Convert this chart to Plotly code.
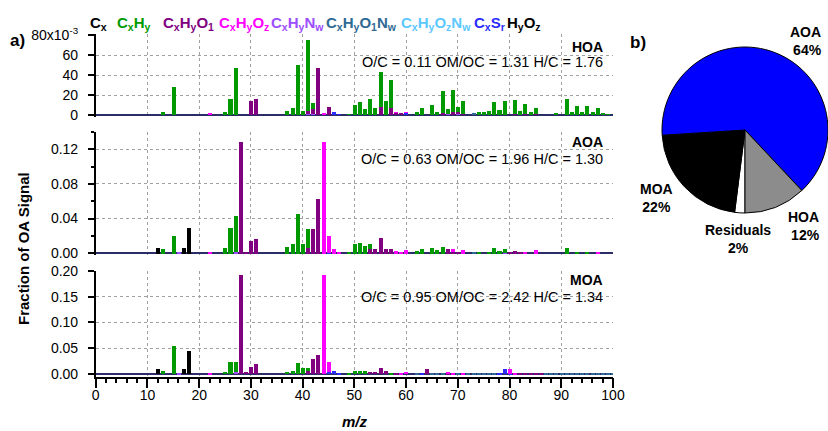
import plotly.graph_objects as go

W, H = 828, 431
MZ = list(range(1, 101))

# ---------------- data: fraction of OA signal, by ion family ----------------
# HOA
hoa_Cx = {}
hoa_HyOz = {}
hoa_CxHy = {13: 0.0033, 15: 0.028, 25: 0.003, 26: 0.016, 27: 0.047, 37: 0.0045, 38: 0.0075,
            39: 0.050, 40: 0.004, 41: 0.071, 42: 0.0065, 49: 0.001, 50: 0.010, 51: 0.0127,
            52: 0.006, 53: 0.0157, 54: 0.007, 55: 0.035, 56: 0.014, 57: 0.028, 62: 0.003,
            63: 0.007, 65: 0.010, 66: 0.0033, 67: 0.022, 68: 0.005, 69: 0.022, 70: 0.005,
            71: 0.0125, 74: 0.003, 75: 0.003, 76: 0.004, 77: 0.013, 78: 0.005, 79: 0.014,
            81: 0.0145, 82: 0.004, 83: 0.0105, 84: 0.003, 85: 0.006, 89: 0.0025, 91: 0.0165,
            92: 0.003, 93: 0.0095, 94: 0.003, 95: 0.009, 96: 0.003, 97: 0.007, 98: 0.002,
            99: 0.001}
hoa_CxHyO1 = {30: 0.014, 31: 0.016, 41: 0.003, 42: 0.005, 43: 0.0467, 45: 0.0077, 55: 0.0083,
              57: 0.007, 58: 0.002, 59: 0.0015, 67: 0.002, 69: 0.003, 70: 0.002, 71: 0.0015,
              81: 0.001, 83: 0.001, 85: 0.001}
hoa_CxHyOz = {22: 0.0015, 44: 0.0012, 58: 0.001, 60: 0.0005}
hoa_CxHyNw = {27: 0.0005, 41: 0.001, 42: 0.001, 68: 0.001, 70: 0.001}
hoa_CxHyO1Nw = {73: 0.002}
hoa_CxHyOzNw = {}
hoa_CxSr = {46: 0.0027, 47: 0.001, 60: 0.002}

# AOA
aoa_Cx = {12: 0.007}
aoa_HyOz = {17: 0.007, 18: 0.029}
aoa_CxHy = {13: 0.0058, 15: 0.0203, 25: 0.0065, 26: 0.029, 27: 0.041, 37: 0.0073, 38: 0.0115,
            39: 0.046, 40: 0.0115, 41: 0.021, 49: 0.002, 50: 0.0115, 51: 0.012, 52: 0.0085,
            53: 0.0065, 62: 0.0027, 63: 0.005, 65: 0.007, 66: 0.004, 67: 0.008, 74: 0.002,
            76: 0.002, 77: 0.007, 78: 0.003, 79: 0.0045, 91: 0.0065, 93: 0.001, 95: 0.001}
aoa_CxHyO1 = {28: 0.129, 29: 0.001, 30: 0.0146, 31: 0.0165, 41: 0.007, 42: 0.0288, 43: 0.0634,
              53: 0.005, 54: 0.0058, 55: 0.018, 56: 0.0058, 57: 0.0058, 68: 0.005, 69: 0.002,
              70: 0.002, 80: 0.001, 81: 0.003, 82: 0.002}
aoa_CxHyOz = {22: 0.001, 44: 0.129, 45: 0.019, 46: 0.005, 47: 0.0015, 58: 0.0025, 59: 0.002,
              60: 0.0038, 69: 0.003, 71: 0.004, 83: 0.002, 85: 0.004, 97: 0.001}
aoa_CxHyNw = {16: 0.001, 27: 0.002, 79: 0.001}
aoa_CxHyO1Nw = {73: 0.002}
aoa_CxHyOzNw = {}
aoa_CxSr = {45: 0.001}

# MOA
moa_Cx = {12: 0.011}
moa_HyOz = {17: 0.011, 18: 0.0446}
moa_CxHy = {13: 0.0065, 15: 0.0555, 25: 0.005, 26: 0.023, 27: 0.020, 37: 0.0045, 38: 0.007,
            39: 0.022, 40: 0.012, 41: 0.0068, 49: 0.002, 50: 0.006, 51: 0.006, 52: 0.006,
            57: 0.003}
moa_CxHyO1 = {28: 0.193, 29: 0.0045, 30: 0.015, 31: 0.0207, 41: 0.0062, 42: 0.0295, 43: 0.0378,
              53: 0.005, 54: 0.005, 55: 0.0116, 56: 0.006, 58: 0.003, 64: 0.0095, 68: 0.002,
              82: 0.002, 83: 0.002, 84: 0.002, 85: 0.002, 86: 0.002}
moa_CxHyOz = {22: 0.003, 44: 0.193, 45: 0.019, 59: 0.001, 60: 0.004, 68: 0.001, 69: 0.003,
              71: 0.003, 80: 0.0085, 81: 0.003}
moa_CxHyNw = {16: 0.001, 27: 0.004}
moa_CxHyO1Nw = {62: 0.001, 65: 0.002, 66: 0.002, 67: 0.002, 70: 0.002, 72: 0.001, 73: 0.001,
                74: 0.001, 75: 0.001, 76: 0.001, 77: 0.001, 87: 0.001, 88: 0.001, 89: 0.001,
                90: 0.001, 91: 0.001, 92: 0.001, 93: 0.001, 94: 0.001, 95: 0.001, 96: 0.001,
                97: 0.001, 98: 0.001, 99: 0.001, 100: 0.001}
moa_CxHyOzNw = {}
moa_CxSr = {45: 0.005, 46: 0.0055, 47: 0.002, 63: 0.002, 78: 0.003, 79: 0.011, 80: 0.001}

# pie (listed clockwise starting at 6 o'clock)
pie_labels = ["Residuals", "MOA", "AOA", "HOA"]
pie_values = [2, 22, 64, 12]
pie_colors = ["#ffffff", "#000000", "#0000ff", "#8c8c8c"]

panel_names = ["HOA", "AOA", "MOA"]
panel_text = ["O/C = 0.11 OM/OC = 1.31 H/C = 1.76",
              "O/C = 0.63 OM/OC = 1.96 H/C = 1.30",
              "O/C = 0.95 OM/OC = 2.42 H/C = 1.34"]

# bottom -> top stacking order
FAMILIES = ["CxHyNw", "CxHyO1Nw", "CxHyOzNw", "CxSr", "CxHyO1", "Cx", "HyOz", "CxHyOz", "CxHy"]
COLORS = {"Cx": "#000000", "CxHy": "#009a00", "CxHyO1": "#800080", "CxHyOz": "#ff00ff",
          "CxHyNw": "#9b4dff", "CxHyO1Nw": "#2f6a94", "CxHyOzNw": "#5cc8ff",
          "CxSr": "#2b2bff", "HyOz": "#000000"}

PANELS = {
    "HOA": dict(Cx=hoa_Cx, HyOz=hoa_HyOz, CxHy=hoa_CxHy, CxHyO1=hoa_CxHyO1, CxHyOz=hoa_CxHyOz,
                CxHyNw=hoa_CxHyNw, CxHyO1Nw=hoa_CxHyO1Nw, CxHyOzNw=hoa_CxHyOzNw, CxSr=hoa_CxSr),
    "AOA": dict(Cx=aoa_Cx, HyOz=aoa_HyOz, CxHy=aoa_CxHy, CxHyO1=aoa_CxHyO1, CxHyOz=aoa_CxHyOz,
                CxHyNw=aoa_CxHyNw, CxHyO1Nw=aoa_CxHyO1Nw, CxHyOzNw=aoa_CxHyOzNw, CxSr=aoa_CxSr),
    "MOA": dict(Cx=moa_Cx, HyOz=moa_HyOz, CxHy=moa_CxHy, CxHyO1=moa_CxHyO1, CxHyOz=moa_CxHyOz,
                CxHyNw=moa_CxHyNw, CxHyO1Nw=moa_CxHyO1Nw, CxHyOzNw=moa_CxHyOzNw, CxSr=moa_CxSr),
}

FONT = "Liberation Sans, Arial, sans-serif"


def px(x):
    return x / W


def py(y):
    return 1 - y / H


fig = go.Figure()
axis_ids = [("x", "y"), ("x2", "y2"), ("x3", "y3")]
for (xa, ya), name in zip(axis_ids, panel_names):
    fams = PANELS[name]
    for fam in FAMILIES:
        d = fams[fam]
        fig.add_trace(go.Bar(x=MZ, y=[d.get(m, 0) for m in MZ], xaxis=xa, yaxis=ya,
                             marker=dict(color=COLORS[fam], line=dict(width=0)),
                             width=0.78, showlegend=False, name=fam))

fig.add_trace(go.Pie(labels=pie_labels, values=pie_values, sort=False,
                     direction="clockwise", rotation=180,
                     marker=dict(colors=pie_colors, line=dict(color="black", width=1)),
                     textinfo="none", hoverinfo="label+percent", showlegend=False,
                     domain=dict(x=[px(662), 1.0], y=[py(213), py(47)])))

xdom = [px(95.7), px(613)]
grid = dict(showgrid=True, gridcolor="#a0a0a0", griddash="dot", gridwidth=1)
xcommon = dict(range=[0, 100], dtick=10, tick0=0, domain=xdom, zeroline=False,
               automargin=False, **grid)
tickfont = dict(family=FONT, size=14, color="black")

ycommon = dict(ticks="outside", ticklen=6, tickwidth=1.5, tickcolor="black", showline=True,
               linecolor="black", linewidth=1.5, zeroline=True, zerolinecolor="#2c2c66",
               zerolinewidth=1.5, tickfont=tickfont, automargin=False, ticklabelstandoff=7,
               **grid)

layout = dict(
    width=W, height=H, margin=dict(l=0, r=0, t=0, b=0, autoexpand=False), barmode="stack",
    bargap=0, plot_bgcolor="white", paper_bgcolor="white",
    xaxis=dict(anchor="y", showticklabels=False, ticks="", **xcommon),
    xaxis2=dict(anchor="y2", showticklabels=False, ticks="", matches="x", **xcommon),
    xaxis3=dict(anchor="y3", matches="x", ticks="outside", ticklen=10, tickwidth=1.5,
                tickcolor="black", showline=True, linecolor="black", linewidth=1.5,
                tickfont=tickfont, ticklabelstandoff=-5,
                minor=dict(dtick=2, tick0=0, ticks="outside", ticklen=5, tickwidth=1.5,
                           tickcolor="black"),
                **xcommon),
    yaxis=dict(anchor="x", domain=[py(117), py(34)], range=[-0.002, 0.081],
               tickmode="array", tickvals=[0, 0.02, 0.04, 0.06, 0.08],
               ticktext=["0", "20", "40", "60", "80x10<sup>-3</sup>"], **ycommon),
    yaxis2=dict(anchor="x2", domain=[py(255), py(131.7)], range=[-0.002, 0.1402],
                tickmode="array", tickvals=[0, 0.04, 0.08, 0.12],
                ticktext=["0.00", "0.04", "0.08", "0.12"],
                minor=dict(tickmode="array", tickvals=[0.02, 0.06, 0.10, 0.14], ticks="outside",
                           ticklen=3, tickwidth=1.5, tickcolor="black"),
                **ycommon),
    yaxis3=dict(anchor="x3", domain=[py(376.7), py(270.7)], range=[-0.0052, 0.2002],
                tickmode="array", tickvals=[0, 0.05, 0.10, 0.15, 0.20],
                ticktext=["0.00", "0.05", "0.10", "0.15", "0.20"], **ycommon),
)
fig.update_layout(**layout)

ann = []


def add_text(x, y, text, size, bold=True, color="black", xanchor="center", yanchor="middle",
             align="center", italic=False, angle=0):
    t = text
    if bold:
        t = "<b>" + t + "</b>"
    if italic:
        t = "<i>" + t + "</i>"
    ann.append(dict(x=px(x), y=py(y), xref="paper", yref="paper", text=t, showarrow=False,
                    xanchor=xanchor, yanchor=yanchor, align=align, textangle=angle,
                    font=dict(family=FONT, size=size, color=color)))


# family legend across the top
legend_items = [
    (88, "C<sub>x</sub>", "Cx"),
    (115, "C<sub>x</sub>H<sub>y</sub>", "CxHy"),
    (161, "C<sub>x</sub>H<sub>y</sub>O<sub>1</sub>", "CxHyO1"),
    (216.7, "C<sub>x</sub>H<sub>y</sub>O<sub>z</sub>", "CxHyOz"),
    (269, "C<sub>x</sub>H<sub>y</sub>N<sub>w</sub>", "CxHyNw"),
    (324, "C<sub>x</sub>H<sub>y</sub>O<sub>1</sub>N<sub>w</sub>", "CxHyO1Nw"),
    (399, "C<sub>x</sub>H<sub>y</sub>O<sub>z</sub>N<sub>w</sub>", "CxHyOzNw"),
    (471.7, "C<sub>x</sub>S<sub>r</sub>", "CxSr"),
    (505, "H<sub>y</sub>O<sub>z</sub>", "HyOz"),
]
for x0, txt, fam in legend_items:
    add_text(x0, 23, txt, 15, color=COLORS[fam], xanchor="left")

add_text(8, 41, "a)", 17, xanchor="left")
add_text(628, 42, "b)", 17, xanchor="left")

name_y = [46.7, 142.3, 280]
text_y = [62.5, 159.3, 297.3]
for nm, tx, yn, yt in zip(panel_names, panel_text, name_y, text_y):
    add_text(605, yn, nm, 14, xanchor="right")
    add_text(605, yt, tx, 14.5, bold=False, xanchor="right")

add_text(23, 249, "Fraction of OA Signal", 15, angle=-90)
add_text(355, 421, "m/z", 15, italic=True)

# pie labels
add_text(824, 41, "AOA<br>64%", 14, xanchor="right", align="right")
add_text(656, 198, "MOA<br>22%", 14)
add_text(822, 226, "HOA<br>12%", 14, xanchor="right", align="right")
add_text(738, 239, "Residuals<br>2%", 14)

fig.update_layout(annotations=ann)
fig.write_html("out.html", config={"displayModeBar": False},
               post_script="document.body.style.margin='0';document.body.style.overflow='hidden';")
